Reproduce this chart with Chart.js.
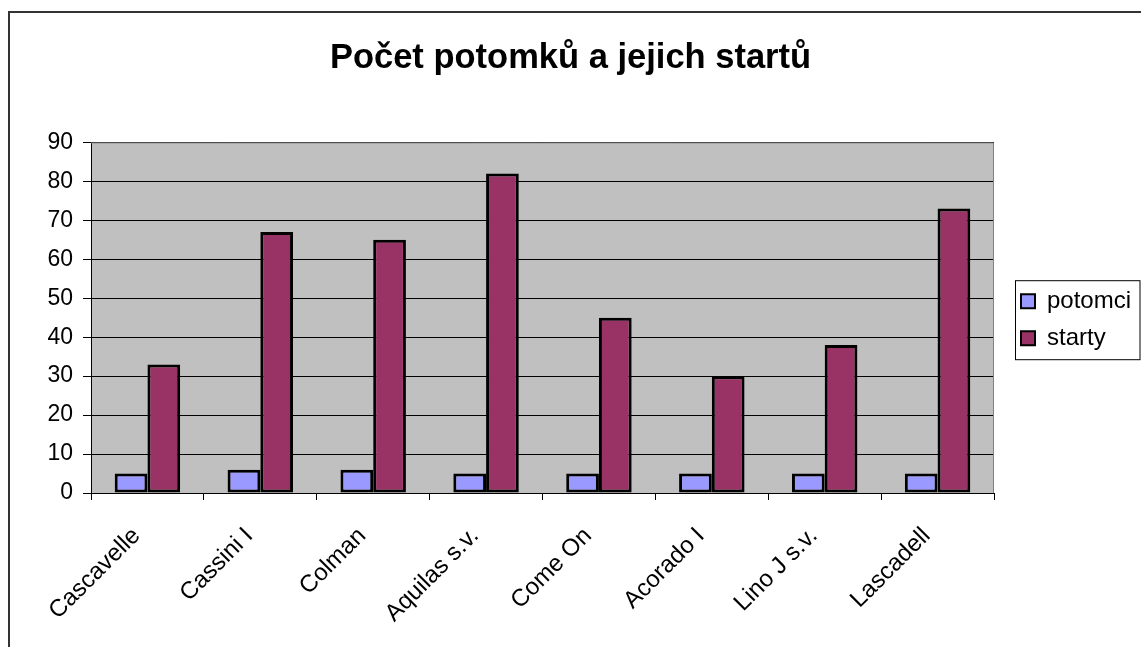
<!DOCTYPE html>
<html>
<head>
<meta charset="utf-8">
<script src="https://cdn.jsdelivr.net/npm/chart.js@4"></script>
<style>
  body { margin: 0; background: #fff; }
  #wrap { position: relative; width: 1141px; height: 647px; overflow: hidden; }
  #frame { position: absolute; left: 8px; top: 11px; width: 2000px; height: 2000px;
           border-left: 2px solid #333; border-top: 2px solid #333; }
  canvas { position: absolute; left: 0; top: 0; }
</style>
</head>
<body>
<div id="wrap">
  <div id="frame"></div>
  <canvas id="chart" width="1141" height="647"></canvas>
</div>
<script>
// Počet potomků a jejich startů
const horses = ["Cascavelle", "Cassini I", "Colman", "Aquilas s.v.", "Come On", "Acorado I", "Lino J s.v.", "Lascadell"];
const potomci = [5, 6, 6, 5, 5, 5, 5, 5];
const starty = [33, 67, 65, 82, 45, 30, 38, 73];
const yMin = 0, yMax = 90, yStep = 10;

Chart.defaults.font.family = '"Liberation Sans", Arial, sans-serif';
Chart.defaults.color = '#000';

// grey plot area + legend box, excel style
const excelBits = {
  id: 'excelBits',
  afterInit(chart) {
    const lg = chart.legend;
    const fit = lg.fit.bind(lg);
    lg.fit = function () { fit(); this.width = 147; };
  },
  afterLayout(chart) {
    const lg = chart.legend;
    lg.left += 14; lg.right += 14;
    lg.top += 2; lg.bottom += 2;
  },
  beforeDraw(chart) {
    const { ctx, chartArea: a } = chart;
    ctx.save();
    ctx.fillStyle = '#c0c0c0';
    ctx.fillRect(a.left, a.top, a.right - a.left, a.bottom - a.top);
    ctx.restore();
  },
  afterDraw(chart) {
    const { ctx, chartArea: a } = chart;
    ctx.save();
    ctx.strokeStyle = '#808080';
    ctx.lineWidth = 1;
    ctx.beginPath();
    ctx.moveTo(a.left, a.top + 0.5);
    ctx.lineTo(a.right - 0.5, a.top + 0.5);
    ctx.lineTo(a.right - 0.5, a.bottom);
    ctx.stroke();
    // legend frame
    const hb = chart.legend.legendHitBoxes;
    if (hb && hb.length) {
      const top = hb[0].top - 9;
      const bot = hb[hb.length - 1].top + hb[hb.length - 1].height + 9;
      const left = hb[0].left - 6;
      ctx.strokeStyle = '#000';
      ctx.strokeRect(left + 0.5, top + 0.5, 1139.5 - left, bot - top);
    }
    ctx.restore();
  }
};

new Chart("chart", {
  type: "bar",
  data: {
    labels: horses,
    datasets: [
      { label: "potomci", data: potomci, backgroundColor: "#9999ff", borderColor: "#000", borderWidth: 3, borderSkipped: false },
      { label: "starty", data: starty, backgroundColor: "#993366", borderColor: "#000", borderWidth: 3, borderSkipped: false }
    ]
  },
  options: {
    responsive: false,
    animation: false,
    categoryPercentage: 0.58,
    barPercentage: 1.0,
    layout: { padding: 0 },
    plugins: {
      title: {
        display: true,
        text: "Počet potomků a jejich startů",
        font: { size: 34.5, weight: "bold" },
        color: "#000",
        padding: { top: 38, bottom: 63 }
      },
      legend: {
        position: "right",
        fullSize: false,
        labels: {
          boxWidth: 14,
          boxHeight: 14,
          padding: 13,
          font: { size: 24 },
          color: "#000",
          generateLabels(chart) {
            return chart.data.datasets.map((ds, i) => ({
              text: ds.label, fillStyle: ds.backgroundColor, strokeStyle: "#000",
              lineWidth: 2, datasetIndex: i, hidden: false
            }));
          }
        }
      },
      tooltip: { enabled: false }
    },
    scales: {
      x: {
        afterFit(s) { s.height = 154; },
        grid: { offset: true, drawOnChartArea: false, drawTicks: true, tickLength: 7, color: "#000" },
        border: { color: "#000", width: 1 },
        ticks: { maxRotation: 45, minRotation: 45, font: { size: 24 }, color: "#000", padding: 22, labelOffset: -11 }
      },
      y: {
        min: yMin, max: yMax,
        afterFit(s) { s.width = 91; },
        grid: { color: "#000", lineWidth: 1, tickLength: 8 },
        border: { color: "#000", width: 1 },
        ticks: { stepSize: yStep, font: { size: 23 }, color: "#000", padding: 10 }
      }
    }
  },
  plugins: [excelBits]
});
</script>
</body>
</html>
